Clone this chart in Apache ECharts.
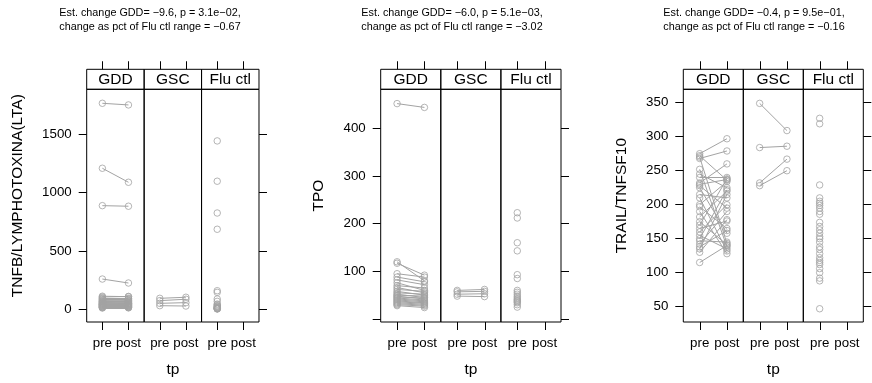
<!DOCTYPE html>
<html>
<head>
<meta charset="utf-8">
<script src="https://cdn.jsdelivr.net/npm/echarts@6/dist/echarts.min.js"></script>
<style>
  html, body { margin: 0; padding: 0; background: #fff; }
  #chart { width: 872px; height: 383px; }
</style>
</head>
<body>
<div id="chart"></div>
<script>
// strips and time points
const groups = ['GDD', 'GSC', 'Flu ctl'];
const timePoints = ['pre', 'post'];

// TNFB/LYMPHOTOXINA(LTA)
const tnfbTitle = ['Est. change GDD= \u22129.6, p = 3.1e\u221202,', 'change as pct of Flu ctl range = \u22120.67'];
const tnfbTicks = [0, 500, 1000, 1500];
const tnfbGddPre  = [1763, 1207, 887, 259, 112, 105, 98, 92, 86, 80, 75, 70, 66, 62, 58, 54, 50, 47, 44, 41, 38, 35, 32, 29, 26, 23, 20, 17, 14, 11];
const tnfbGddPost = [1749, 1087, 882, 225, 108, 110, 95, 85, 90, 76, 70, 72, 60, 65, 55, 50, 52, 44, 48, 40, 36, 38, 30, 33, 24, 26, 18, 20, 15, 12];
const tnfbGscPre  = [94, 74, 51, 31];
const tnfbGscPost = [103, 86, 57, 28];
const tnfbFlu = [1441, 1096, 824, 685, 159, 145, 88, 68, 45, 38, 30, 25, 20, 16, 12, 9, 7, 5, 4, 3];

// TPO
const tpoTitle = ['Est. change GDD= \u22126.0, p = 5.1e\u221203,', 'change as pct of Flu ctl range = \u22123.02'];
const tpoTicks = [0, 100, 200, 300, 400];
const tpoLabels = [100, 200, 300, 400];
const tpoGddPre  = [452, 120, 117, 95, 88, 82, 76, 70, 66, 62, 58, 55, 52, 50, 48, 46, 44, 42, 40, 38, 36, 34, 32, 30, 28];
const tpoGddPost = [444, 80, 92, 88, 78, 72, 60, 65, 55, 58, 50, 52, 45, 48, 42, 44, 40, 38, 36, 34, 33, 31, 29, 27, 24];
const tpoGscPre  = [60, 57, 52, 48];
const tpoGscPost = [62, 58, 53, 47];
const tpoFlu = [223, 212, 160, 143, 93, 85, 60, 56, 52, 48, 45, 42, 40, 38, 36, 34, 30, 25];

// TRAIL/TNFSF10
const trailTitle = ['Est. change GDD= \u22120.4, p = 9.5e\u221201,', 'change as pct of Flu ctl range = \u22120.16'];
const trailTicks = [50, 100, 150, 200, 250, 300, 350];
const trailGddPre  = [275, 272, 270, 268, 252, 245, 240, 232, 230, 228, 225, 215, 210, 200, 197, 190, 182, 175, 170, 165, 160, 155, 150, 147, 142, 138, 135, 130, 115];
const trailGddPost = [297, 236, 143, 279, 138, 225, 240, 260, 237, 195, 158, 210, 132, 234, 165, 128, 220, 141, 238, 176, 200, 135, 222, 145, 190, 162, 215, 178, 140];
const trailGscPre  = [349, 284, 232, 228];
const trailGscPost = [309, 286, 267, 250];
const trailFlu = [327, 319, 229, 210, 205, 202, 199, 195, 190, 186, 174, 168, 163, 158, 153, 150, 145, 138, 134, 128, 122, 118, 115, 112, 106, 100, 92, 88, 47];

const panels = [
  { ylab: 'TNFB/LYMPHOTOXINA(LTA)', title: tnfbTitle, ticks: tnfbTicks, labels: tnfbTicks,
    pairs: [[tnfbGddPre, tnfbGddPost], [tnfbGscPre, tnfbGscPost]], flu: tnfbFlu },
  { ylab: 'TPO', title: tpoTitle, ticks: tpoTicks, labels: tpoLabels,
    pairs: [[tpoGddPre, tpoGddPost], [tpoGscPre, tpoGscPost]], flu: tpoFlu },
  { ylab: 'TRAIL/TNFSF10', title: trailTitle, ticks: trailTicks, labels: trailTicks,
    pairs: [[trailGddPre, trailGddPost], [trailGscPre, trailGscPost]], flu: trailFlu }
];

// layout (pixels)
const layout = [
  { left: 86.7, stripW: 57.43, min: -108.7, max: 1882.7, titleX: 150, ylabX: 18 },
  { left: 380.7, stripW: 60.1, min: -6.3, max: 482, titleX: 452, ylabX: 319 },
  { left: 683.3, stripW: 60, min: 27.5, max: 369.7, titleX: 754, ylabX: 622 }
];
const STRIP_TOP = 69.3, PLOT_TOP = 89.3, PLOT_BOTTOM = 322;
const STRIP_H = PLOT_TOP - STRIP_TOP;
const TICK_LEN = 8;
const FONT = '"Liberation Sans", Arial, Helvetica, sans-serif';
const GREY = '#a3a3a3';

const grid = [], xAxis = [], yAxis = [], series = [], graphic = [];

panels.forEach((p, pi) => {
  const L = layout[pi];
  const cols = [p.pairs[0], p.pairs[1], [p.flu, []]];

  cols.forEach((col, si) => {
    const g = pi * 3 + si;
    const x0 = L.left + si * L.stripW;
    grid.push({
      left: x0, top: PLOT_TOP, width: L.stripW, height: PLOT_BOTTOM - PLOT_TOP,
      show: true, borderColor: '#000', borderWidth: 1, backgroundColor: 'transparent'
    });

    xAxis.push({
      gridIndex: g, type: 'value', min: 0.4, max: 2.6, position: 'bottom',
      axisLine: { show: false, onZero: false },
      splitLine: { show: false },
      axisTick: { show: false },
      axisLabel: { show: true, customValues: [1, 2], formatter: v => timePoints[Math.round(v) - 1],
        margin: 15, fontSize: 13.3, color: '#000', fontFamily: FONT }
    });

    yAxis.push({
      gridIndex: g, type: 'value', min: L.min, max: L.max,
      position: si === 2 ? 'right' : 'left',
      axisLine: { show: false, onZero: false }, splitLine: { show: false },
      axisTick: { show: si !== 1, customValues: p.ticks, length: TICK_LEN, lineStyle: { color: '#000' } },
      axisLabel: { show: si === 0, customValues: p.labels, formatter: v => String(v), margin: 15,
        fontSize: 13.3, color: '#000', fontFamily: FONT }
    });

    const pre = col[0], post = col[1];
    if (post.length) {
      series.push({
        type: 'lines', coordinateSystem: 'cartesian2d', xAxisIndex: g, yAxisIndex: g,
        silent: true, z: 2,
        lineStyle: { color: GREY, width: 1, opacity: 1 },
        data: pre.map((v, i) => ({ coords: [[1, v], [2, post[i]]] }))
      });
    }
    series.push({
      type: 'scatter', xAxisIndex: g, yAxisIndex: g, z: 3, silent: true,
      symbol: 'circle', symbolSize: 6.5,
      itemStyle: { color: 'rgba(0,0,0,0)', borderColor: GREY, borderWidth: 1 },
      data: pre.map(v => [1, v]).concat(post.map(v => [2, v]))
    });

    // strip header
    graphic.push({
      type: 'rect', shape: { x: x0, y: STRIP_TOP, width: L.stripW, height: STRIP_H },
      style: { fill: 'rgba(255,255,255,0)', stroke: '#000', lineWidth: 1 }, z: 10
    });
    graphic.push({
      type: 'text', x: x0 + L.stripW / 2, y: (STRIP_TOP + PLOT_TOP) / 2 + 0.5, z: 11,
      style: { text: groups[si], fill: '#000', font: '15.5px ' + FONT, textAlign: 'center', textVerticalAlign: 'middle' }
    });
  });

  // title lines
  p.title.forEach((t, k) => {
    graphic.push({
      type: 'text', x: L.titleX, y: 13.5 + k * 13.3, z: 11,
      style: { text: t, fill: '#000', font: '10.8px ' + FONT, textAlign: 'center', textVerticalAlign: 'middle' }
    });
  });
  // y label
  graphic.push({
    type: 'text', x: L.ylabX, y: (STRIP_TOP + PLOT_BOTTOM) / 2, rotation: Math.PI / 2, z: 11,
    style: { text: p.ylab, fill: '#000', font: '15.5px ' + FONT, textAlign: 'center', textVerticalAlign: 'middle' }
  });
  // x label
  graphic.push({
    type: 'text', x: L.left + 1.5 * L.stripW, y: 370, z: 11,
    style: { text: 'tp', fill: '#000', font: '15.5px ' + FONT, textAlign: 'center', textVerticalAlign: 'middle' }
  });
});

const chart = echarts.init(document.getElementById('chart'), null, { renderer: 'canvas' });
chart.setOption({
  backgroundColor: '#fff',
  animation: false,
  grid: grid,
  xAxis: xAxis,
  yAxis: yAxis,
  series: series,
  graphic: graphic
});

// x tick marks below each strip and above each strip header, positioned by the x scale
const tickMarks = [];
panels.forEach((p, pi) => {
  for (let si = 0; si < 3; si++) {
    const g = pi * 3 + si;
    timePoints.forEach((t, i) => {
      const pt = chart.convertToPixel({ xAxisIndex: g, yAxisIndex: g }, [i + 1, layout[pi].min]);
      const x = Math.round(pt[0]);
      tickMarks.push({
        type: 'rect', z: 12, silent: true,
        shape: { x: x, y: PLOT_BOTTOM, width: 1, height: TICK_LEN },
        style: { fill: '#000' }
      });
      tickMarks.push({
        type: 'rect', z: 12, silent: true,
        shape: { x: x, y: STRIP_TOP - TICK_LEN, width: 1, height: TICK_LEN },
        style: { fill: '#000' }
      });
    });
  }
});
chart.setOption({ graphic: graphic.concat(tickMarks) });
</script>
</body>
</html>
